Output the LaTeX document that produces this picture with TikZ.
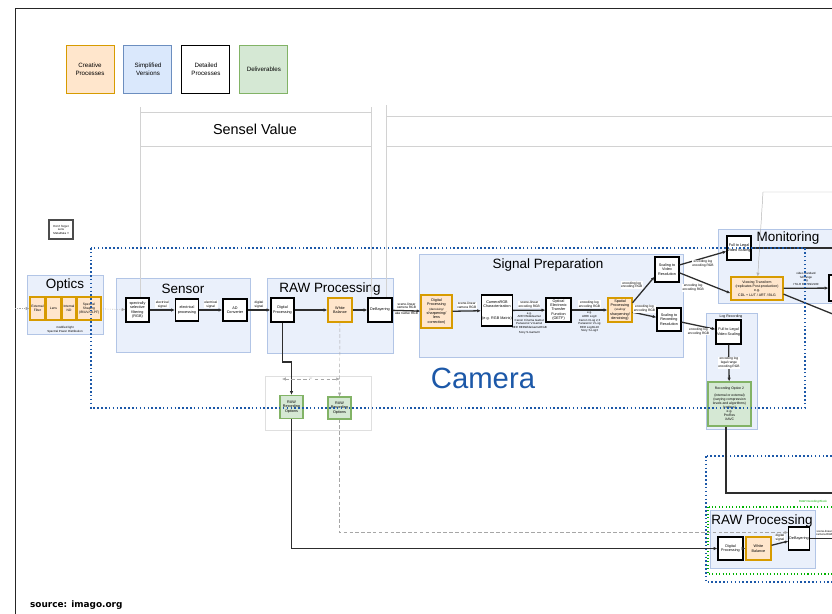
\documentclass[tikz,border=0pt]{standalone}
\usepackage{fontspec}
\setmainfont{Liberation Sans}
\newfontfamily\sourcefont{DejaVu Sans}
\usepackage{xcolor}
\definecolor{creativefill}{RGB}{255, 230, 204}
\definecolor{creativeline}{RGB}{215, 155, 0}
\definecolor{simplefill}{RGB}{218, 232, 252}
\definecolor{simpleline}{RGB}{108, 142, 191}
\definecolor{groupfill}{RGB}{234, 240, 251}
\definecolor{groupline}{RGB}{178, 197, 230}
\definecolor{delivfill}{RGB}{213, 232, 212}
\definecolor{delivline}{RGB}{130, 179, 102}
\definecolor{camerablue}{RGB}{28, 88, 168}
\definecolor{darkline}{RGB}{45, 45, 45}
\usetikzlibrary{arrows.meta, positioning, calc}

\begin{document}
\begin{tikzpicture}[x=0.03cm, y=-0.03cm, >={Latex[length=3.2pt, width=2.8pt]},
    wh/.style 2 args={minimum width=#1*0.8536pt, minimum height=#2*0.8536pt},
    proc/.style={draw=black, line width=0.9pt, fill=white, align=center, inner sep=0.3pt, font=\fontsize{3.2}{3.7}\selectfont},
    creative/.style={proc, draw=creativeline, fill=creativefill},
    deliv/.style={proc, draw=delivline, fill=delivfill},
    legendbox/.style={line width=0.8pt, align=center, inner sep=0pt, wh={48}{48}, font=\fontsize{5.3}{6.6}\selectfont},
    group/.style={draw=groupline, fill=groupfill, line width=0.8pt},
    grouptitle/.style={font=\fontsize{11.5}{13}\selectfont, inner sep=0pt},
    flow/.style={->, draw=darkline, line width=1.1pt},
    flowline/.style={draw=darkline, line width=1.1pt},
    tag/.style={fill=white, align=center, inner sep=0.4pt, font=\fontsize{2.8}{3.3}\selectfont},
    smalltext/.style={align=center, inner sep=0pt, font=\fontsize{2.5}{3}\selectfont},
    hint/.style={->, draw=gray!70, line width=0.4pt, densely dashed},
    sensel/.style={draw=gray!35, line width=0.4pt},
    blockline/.style={draw=camerablue, line width=1.3pt, dotted}]

    \useasboundingbox (0,0) rectangle (832,614);
    \clip (0,0) rectangle (832,614);
    \draw[black!85, line width=0.7pt] (15,8) rectangle (900,700);

    % legend
    \node[legendbox, draw=creativeline, fill=creativefill] (creative) at (90,69.5) {Creative\\Processes};
    \node[legendbox, draw=simpleline, fill=simplefill, right=7.7pt of creative] (simplified) {Simplified\\Versions};
    \node[legendbox, draw=black, fill=white, right=7.7pt of simplified] (detailed) {Detailed\\Processes};
    \node[legendbox, draw=delivline, fill=delivfill, right=7.7pt of detailed] (deliverables) {Deliverables};

    % sensel value table
    \draw[sensel] (140,112) -- (371,112) (140,146) -- (371,146);
    \draw[sensel] (386,116) -- (840,116) (386,146) -- (840,146);
    \node[font=\fontsize{12.3}{14}\selectfont] (sensel) at (255,129) {Sensel Value};
    \coordinate (senselA) at (140,107);
    \coordinate (senselB) at (371,107);
    \coordinate (senselC) at (386,105);

    % groups
    \draw[group] (27,275) rectangle (103,334);
    \node[grouptitle] (opticstitle) at (65,285) {Optics};
    \draw[group] (116,278) rectangle (250,352);
    \node[grouptitle] (sensortitle) at (183,289) {Sensor};
    \draw[group] (267,278) rectangle (393,353);
    \node[grouptitle] (rawtitle) at (330,289) {RAW Processing};
    \draw[group] (419,254) rectangle (683,357);
    \node[grouptitle] (signaltitle) at (548,265) {Signal Preparation};
    \draw[group] (718,229) rectangle (900,303);
    \node[grouptitle] (monitortitle) at (788,238) {Monitoring};
    \draw[group] (706,313) rectangle (757,429);
    \node[smalltext, font=\fontsize{3}{3.5}\selectfont] (logtitle) at (731,317) {Log Recording};
    \draw[gray!25, line width=0.4pt] (265,376) rectangle (371,430);
    \draw[blockline] (706,456) rectangle (900,582);
    \draw[green!70!black, dotted, line width=0.9pt] (708,507) rectangle (900,574);
    \node[anchor=east, text=green!70!black, font=\fontsize{2.5}{3}\selectfont] (rawdecode) at (831,502) {RAW Decoding Block};
    \draw[group] (710,510) rectangle (815,568);
    \node[grouptitle] (rawtitleb) at (762,521) {RAW Processing};

    % nodes
    \node[proc, draw=black!70, wh={24}{19}, font=\fontsize{2.5}{3}\selectfont] (metadata) at (61,229.5) {Don't forget\\Lens\\MetaData !!};

    \node[creative, wh={15}{23}, font=\fontsize{2.8}{3.3}\selectfont] (extf) at (37.5,308.5) {External\\Filter};
    \node[creative, wh={15}{23}, font=\fontsize{2.8}{3.3}\selectfont] (lens) at (53.5,308.5) {Lens};
    \node[creative, wh={14}{23}, font=\fontsize{2.8}{3.3}\selectfont] (ind) at (69,308.5) {Internal\\ND};
    \node[creative, wh={24}{23}, font=\fontsize{2.8}{3.3}\selectfont] (spec) at (89,308.5) {Spectral\\Shaping\\(IR/UV/OLPF)};
    \node[smalltext] (spd) at (65,329.5) {modified light\\Spectral Power Distribution};

    \node[proc, wh={23}{24}] (ssf) at (137.5,310) {spectrally\\selective\\filtering\\(RGB)};
    \node[proc, wh={23}{22}] (elp) at (187,310) {electrical\\processing};
    \node[proc, wh={24}{22}] (adc) at (235,310) {AD\\Converter};

    \node[proc, wh={23}{24}] (rdp) at (282.5,310) {Digital\\Processing};
    \node[creative, wh={24}{24}] (rwb) at (340,310) {White\\Balance};
    \node[proc, wh={24}{24}] (rdb) at (380,310) {DeBayering};

    \node[creative, wh={31}{33}] (sdp) at (436.5,311.5) {Digital\\Processing\\\fontsize{2.5}{3}\selectfont(denoising/\\sharpening/\\lens\\correction)};
    \node[proc, wh={31}{31}] (crgb) at (497,310.5) {CameraRGB\\Characterization\\[6pt](e.g. RGB Matrix)};
    \node[proc, wh={25}{24}] (oetf) at (558.5,310) {Optical\\Electronic\\Transfer\\Function\\(OETF)};
    \node[creative, wh={24}{24}] (spat) at (620,310) {Spatial\\Processing\\\fontsize{2.5}{3}\selectfont(scaling/\\sharpening/\\denoising)};
    \node[proc, wh={24}{25}] (svid) at (667,269.5) {Scaling to\\Video\\Resolution};
    \node[proc, wh={24}{23}] (srec) at (669,319.5) {Scaling to\\Recording\\Resolution};

    \node[proc, wh={24}{24}] (fl1) at (739,248) {Full to Legal\\Video Scaling};
    \node[creative, wh={52}{23}, font=\fontsize{3}{3.6}\selectfont] (vt) at (757,288.5) {Viewing Transform\\(replicates Post-production)\\e.g.\\CDL + LUT / ART / BLG};
    \node[proc, wh={24}{26}] (disp) at (841,288) {};

    \node[proc, wh={25}{24}] (fl2) at (728.5,332) {Full to Legal\\Video Scaling};
    \node[deliv, wh={43}{44}, font=\fontsize{2.9}{3.5}\selectfont] (rec2) at (729.5,404) {Recording Option 2\\[2pt](internal or external)\\(varying compression\\levels and algorithms)\\(codecs)\\e.g.\\ProRes\\XAVC};

    \node[deliv, wh={23}{23}] (rro1) at (291.5,407) {RAW\\Recording\\Options};
    \node[deliv, wh={23}{22}] (rro2) at (339.5,408) {RAW\\Recording\\Options};

    \node[proc, wh={25}{23}] (bdp) at (730.5,548.5) {Digital\\Processing};
    \node[creative, wh={25}{23}] (bwb) at (758.5,548.5) {White\\Balance};
    \node[proc, wh={20}{23}] (bdb) at (799,538.5) {DeBayering};

    % connectors
    \coordinate (lightin) at (15,308.5);
    \draw[->, gray!70, densely dotted, line width=0.5pt] (lightin) -- (extf);
    \draw[->, gray!70, densely dotted, line width=0.5pt] (spec) -- (ssf);
    \draw[sensel] (senselA) -- (ssf.north -| senselA);
    \draw[sensel] (senselB) -- (rdb.north -| senselB);
    \draw[sensel] (senselC) -- (rdb.north -| senselC);

    \draw[flow] (ssf) -- node[tag, above=1pt] {electrical\\signal} (elp);
    \draw[flow] (elp) -- node[tag, above=1pt] {electrical\\signal} (adc);
    \draw[flow] (adc) -- node[tag, above=1pt] {digital\\signal} (rdp);
    \draw[flow] (rdp) -- (rwb);
    \draw[flow] (rwb) -- (rdb);
    \draw[flow] (rdb) -- node[tag, above=0.5pt] {scene-linear\\camera RGB} node[tag, below=0.5pt] {aka native RGB} (sdp);
    \draw[flow] (sdp) -- node[tag, above=1pt] {scene-linear\\camera RGB} (crgb);
    \draw[flow] (crgb) -- node[tag, above=1pt] {scene-linear\\encoding RGB} node[smalltext, below=1.5pt] {e.g.\\ARRI WideGamut\\Canon Cinema Gamut\\Panasonic V-Gamut\\RED REDWideGamutRGB\\[1.5pt]Sony S-Gamut3} (oetf);
    \draw[flow] (oetf) -- node[tag, above=1pt] {encoding log\\encoding RGB} node[smalltext, below=1.5pt] {e.g.\\ARRI LogC\\Canon CLog 2,3\\Panasonic V-Log\\RED Log3G10\\Sony S-Log3} (spat);
    \draw[flow] (spat.30) -- node[tag, above left=0pt] {encoding log\\encoding RGB} (svid.-150);
    \draw[flow] (spat.-10) -- node[tag, above=1pt] {encoding log\\encoding RGB} (srec.170);
    \draw[flow] (svid.20) -- node[tag, below=1pt] {encoding log\\encoding RGB} (fl1.-165);
    \draw[flow] (svid.-15) -- node[tag, below left=0pt] {encoding log\\encoding RGB} (vt.190);
    \draw[flow] (srec) -- node[tag, below=1pt] {encoding log\\encoding RGB} (fl2);

    \coordinate (fl1out) at (845,248);
    \draw[flowline] (fl1) -- (fl1out);
    \draw[flow] (vt) -- node[smalltext, above=2pt] {video standard\\full range\\e.g.\\ITU-R BT.709/2100} (disp);
    \coordinate (vtout) at (845,319);
    \draw[flowline] (vt.-12) -- (vtout);
    \coordinate (lutin) at (845,192);
    \coordinate (lutbend) at (763,192);
    \draw[->, gray!60, line width=0.4pt] (lutin) -- (lutbend) -- (vt);

    \draw[flow] (fl2) -- node[tag] {encoding log\\legal range\\encoding RGB} (rec2);
    \coordinate (recbend) at (726,493);
    \coordinate (recout) at (845,493);
    \draw[flowline] (rec2.south -| recbend) -- (recbend) -- (recout);

    \draw[flow] (rdp) |- (291.5,362) -- (rro1);
    \draw[hint] (rwb) -- (rro2);
    \coordinate (orL) at (282,379);
    \coordinate (orR) at (340,379);
    \draw[<->, gray!70, densely dashed, line width=0.4pt] (orL) -- node[smalltext, fill=white] {or} (orR);
    \draw[flow] (rro1) |- (bdp);
    \draw[hint] (rro2) |- ($(bdb.west)+(0,-6)$);

    \draw[flow] (bdp) -- (bwb);
    \draw[flow] (bwb) -- node[tag, above=1pt] {digital\\signal} (bdb);
    \coordinate (bdbout) at (845,538.5);
    \draw[flowline] (bdb) -- (bdbout);
    \node[tag, anchor=south west, font=\fontsize{2.4}{2.9}\selectfont] (bdblabel) at (815.5,536.5) {scene-linear\\camera RGB};

    % camera block
    \draw[blockline] (91,248) rectangle (805,408);
    \node[font=\fontsize{25}{30}\selectfont, text=camerablue] (cameralabel) at (483,378) {Camera};

    \node[anchor=base west, font=\sourcefont\bfseries\fontsize{7.6}{9}\selectfont] (source) at (26,607) {source: imago.org};
\end{tikzpicture}
\end{document}
